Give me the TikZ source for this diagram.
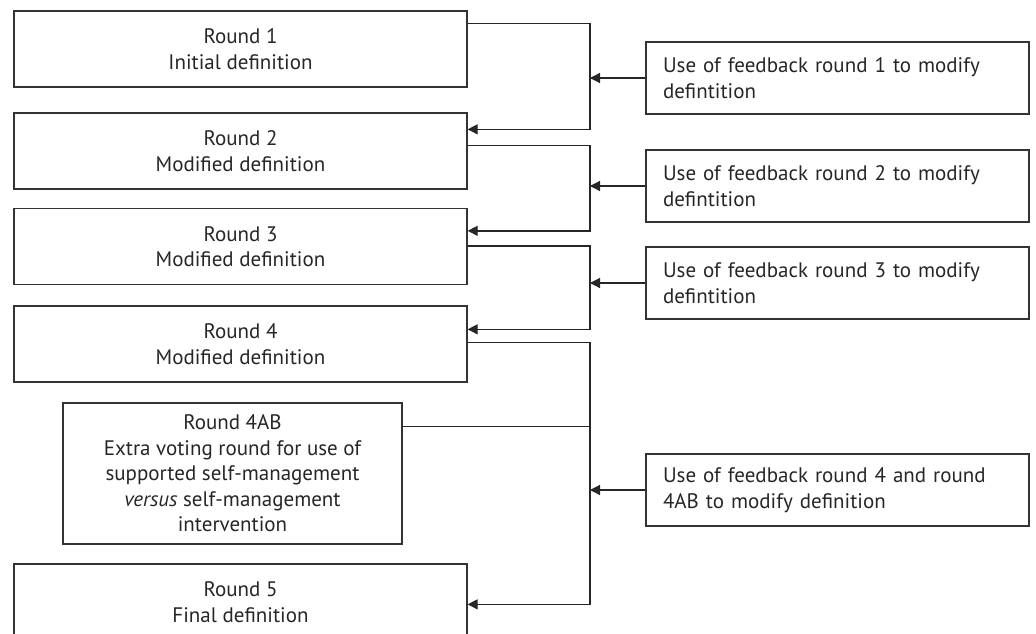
\documentclass[tikz,border=0pt]{standalone}
\usepackage{fontspec}
\setmainfont{PT Sans}
\usetikzlibrary{arrows.meta}

\begin{document}
\begin{tikzpicture}[x=1pt,y=-1pt,
  roundbox/.style={draw=black!80, line width=1.3pt, text=black!85, align=center,
    minimum width=453pt, minimum height=76pt, inner sep=0pt,
    font=\fontsize{21}{25.5}\selectfont},
  feedbox/.style={draw=black!80, line width=1.3pt, text=black!85, align=left,
    minimum width=383pt, minimum height=72pt, inner sep=0pt, text width=349pt,
    font=\fontsize{21}{25.5}\selectfont},
  link/.style={draw=black!85, line width=1.3pt},
  feed/.style={link, -{Triangle[length=10pt,width=10pt]}}]
\useasboundingbox (0,0) rectangle (1036,634);
\clip (0,0) rectangle (1036,634);

% rounds
\node[roundbox] (r1) at (240.5,49) {Round 1\\Initial definition};
\node[roundbox] (r2) at (240.5,151) {Round 2\\Modified definition};
\node[roundbox] (r3) at (240.5,246.5) {Round 3\\Modified definition};
\node[roundbox] (r4) at (240.5,344) {Round 4\\Modified definition};
\node[roundbox, minimum width=339pt, minimum height=141pt] (r4ab) at (232.5,473.5)
  {Round 4AB\\Extra voting round for use of\\supported self-management\\\textit{versus} self-management\\intervention};
\node[roundbox] (r5) at (240.5,602) {Round 5\\Final definition};

% feedback
\node[feedbox] (f1) at (837.5,78) {Use of feedback round 1 to modify\\defintition};
\node[feedbox] (f2) at (837.5,186) {Use of feedback round 2 to modify\\defintition};
\node[feedbox] (f3) at (837.5,283) {Use of feedback round 3 to modify\\defintition};
\node[feedbox] (f4) at (837.5,490) {Use of feedback round 4 and round\\4AB to modify definition};

\coordinate (bus) at (590,0);
\coordinate (r1o) at ([yshift=-13pt]r1.north east);
\coordinate (r2i) at ([yshift=-17pt]r2.north east);
\coordinate (r2o) at ([yshift=-33pt]r2.north east);
\coordinate (r3i) at ([yshift=-23pt]r3.north east);
\coordinate (r3o) at ([yshift=-38pt]r3.north east);
\coordinate (r4i) at ([yshift=-24pt]r4.north east);
\coordinate (r4o) at ([yshift=-37pt]r4.north east);
\coordinate (r4abo) at ([yshift=-24pt]r4ab.north east);
\coordinate (r5i) at ([yshift=-41pt]r5.north east);

\draw[feed] (r1o) -- (r1o -| bus) -- (r2i -| bus) -- (r2i);
\draw[feed] (r2o) -- (r2o -| bus) -- (r3i -| bus) -- (r3i);
\draw[feed] (r3o) -- (r3o -| bus) -- (r4i -| bus) -- (r4i);
\draw[feed] (r4o) -- (r4o -| bus) -- (r5i -| bus) -- (r5i);
\draw[link] (r4abo) -- (r4abo -| bus);

\draw[feed] (f1.west) -- (f1.west -| bus);
\draw[feed] (f2.west) -- (f2.west -| bus);
\draw[feed] (f3.west) -- (f3.west -| bus);
\draw[feed] (f4.west) -- (f4.west -| bus);

\end{tikzpicture}
\end{document}
